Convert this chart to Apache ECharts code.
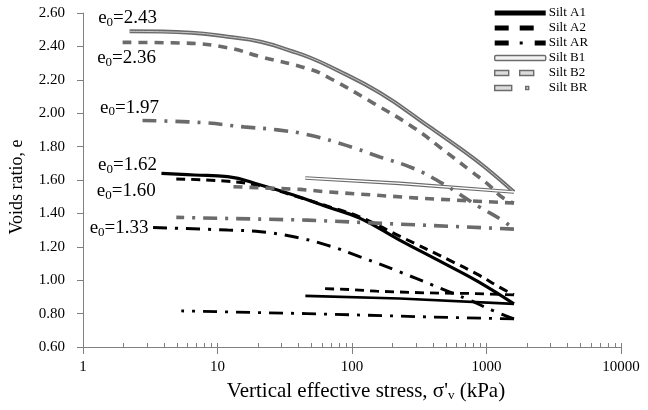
<!DOCTYPE html>
<html>
<head>
<meta charset="utf-8">
<script src="https://cdn.jsdelivr.net/npm/echarts@6/dist/echarts.min.js"></script>
<style>
  html, body { margin: 0; padding: 0; background: #fff; }
  #chart { width: 648px; height: 410px; }
</style>
</head>
<body>
<div id="chart"></div>
<script>
// [vertical effective stress (kPa), voids ratio e]
const a1Load = [[3.83, 1.640], [6.7, 1.630], [11.9, 1.620], [20.9, 1.570], [36.7, 1.510], [65.1, 1.440], [115, 1.370], [226, 1.240], [529, 1.084], [880, 0.988], [1600, 0.858]];
const a1Unload = [[1600, 0.858], [226, 0.890], [45, 0.906]];
const a2Load = [[4.94, 1.606], [11.9, 1.592], [20.9, 1.564], [36.7, 1.507], [65.1, 1.444], [115, 1.378], [226, 1.264], [529, 1.120], [880, 1.030], [1237, 0.960], [1600, 0.912]];
const a2Unload = [[1600, 0.912], [832, 0.920], [356, 0.924], [152, 0.934], [96.7, 0.944], [58, 0.950]];
const arLoad = [[3.32, 1.316], [11.9, 1.300], [20.9, 1.290], [36.9, 1.260], [65.1, 1.210], [115, 1.140], [226, 1.050], [398, 0.970], [702, 0.890], [1104, 0.820], [1600, 0.768]];
const arUnload = [[1600, 0.768], [377, 0.780], [46.3, 0.800], [5.38, 0.816]];
const b1Load = [[2.22, 2.490], [6.37, 2.482], [11.9, 2.458], [20.9, 2.428], [36.7, 2.368], [49, 2.332], [68.9, 2.278], [161, 2.122], [377, 1.918], [659, 1.780], [991, 1.672], [1600, 1.528]];
const b1Unload = [[1600, 1.528], [226, 1.580], [45, 1.612]];
const b2Load = [[1.97, 2.424], [5.66, 2.420], [11.9, 2.392], [20.9, 2.338], [49, 2.262], [68.9, 2.208], [143, 2.062], [282, 1.918], [511, 1.762], [782, 1.648], [1043, 1.570], [1300, 1.498], [1600, 1.462]];
const b2Unload = [[1600, 1.462], [327, 1.490], [63.2, 1.530], [41.3, 1.544], [13, 1.560]];
const brLoad = [[2.77, 1.956], [7.55, 1.944], [15.7, 1.918], [27.9, 1.900], [49, 1.868], [91.8, 1.806], [161, 1.738], [282, 1.672], [469, 1.580], [880, 1.440], [1300, 1.360], [1600, 1.306]];
const brUnload = [[1600, 1.306], [46.3, 1.360], [4.94, 1.376]];

const names = ["Silt A1", "Silt A2", "Silt AR", "Silt B1", "Silt B2", "Silt BR"];
const e0Text = ["1.62", "1.60", "1.33", "2.43", "2.36", "1.97"];

const FONT = "Liberation Serif";
const BLACK = "#000";
const GREY = "#6b6b6b";
const AXIS = "#808080";

const chart = echarts.init(document.getElementById("chart"));

// e0 label next to the first point of a loading curve
function e0Mark(data, text, offset) {
  return {
    symbol: "circle",
    symbolSize: 0,
    silent: true,
    itemStyle: { color: "transparent" },
    label: {
      show: true,
      position: "inside",
      offset: offset,
      formatter: "{e|e}{s|0}{e|=" + text + "}",
      rich: {
        e: { fontFamily: FONT, fontSize: 19, lineHeight: 22, color: BLACK },
        s: { fontFamily: FONT, fontSize: 13, lineHeight: 11, verticalAlign: "bottom", color: BLACK },
      },
    },
    data: [{ coord: data[0] }],
  };
}

function line(name, data, color, width, dash, smooth, mark) {
  return {
    type: "line",
    name: name,
    data: data,
    symbol: "none",
    smooth: smooth ? 0.45 : false,
    color: color,
    lineStyle: { color: color, width: width, type: dash, cap: "butt" },
    markPoint: mark,
    silent: true,
  };
}

const dashA2 = [9, 6];
const dashAR = [14, 8, 3, 8];
const dashB2 = [9, 7];
const dashBR = [14, 8, 3, 8];

const series = [
  line(names[0], a1Load, BLACK, 3.2, "solid", true, e0Mark(a1Load, e0Text[0], [-34, -8])),
  line(names[0], a1Unload, BLACK, 2.6, "solid", false),
  line(names[1], a2Load, BLACK, 3, dashA2, true, e0Mark(a2Load, e0Text[1], [-50, 12])),
  line(names[1], a2Unload, BLACK, 2.8, dashA2, false),
  line(names[2], arLoad, BLACK, 3, dashAR, true, e0Mark(arLoad, e0Text[2], [-34, 1])),
  line(names[2], arUnload, BLACK, 2.8, dashAR, false),
  line(names[3], b1Load, GREY, 4, "solid", true, e0Mark(b1Load, e0Text[3], [-2, -13])),
  line(names[3], b1Unload, GREY, 3.6, "solid", false),
  line(names[3], b1Load, "#c9c9c9", 1, "solid", true),
  line(names[3], b1Unload, "#ffffff", 1.4, "solid", false),
  line(names[4], b2Load, GREY, 3.6, dashB2, true, e0Mark(b2Load, e0Text[4], [4, 16])),
  line(names[4], b2Unload, GREY, 3.6, dashB2, false),
  line(names[5], brLoad, GREY, 3.6, dashBR, true, e0Mark(brLoad, e0Text[5], [-13, -13])),
  line(names[5], brUnload, GREY, 3.6, dashBR, false),
];

// legend keys: dashes drawn as paths, a zero-length end segment keeps the full key width
const END = " M50.99,2.5L51,2.5";
const legendData = [
  { name: names[0], icon: "rect", itemStyle: { color: BLACK, borderWidth: 0 } },
  { name: names[1], icon: "path://M0,0H14V5H0Z M25,0H39V5H25Z" + END, itemStyle: { color: BLACK, borderWidth: 0 } },
  { name: names[2], icon: "path://M0,0H14V5H0Z M25,1H28V4H25Z M40,0H51V5H40Z", itemStyle: { color: BLACK, borderWidth: 0 } },
  { name: names[3], icon: "roundRect", itemStyle: { color: "#f2f2f2", borderColor: GREY, borderWidth: 1.4 } },
  { name: names[4], icon: "path://M0,0H14V5H0Z M25,0H39V5H25Z" + END, itemStyle: { color: "#dcdcdc", borderColor: GREY, borderWidth: 1.4 } },
  { name: names[5], icon: "path://M0,0H17V5H0Z M31,1H34V4H31Z" + END, itemStyle: { color: "#dcdcdc", borderColor: GREY, borderWidth: 1.4 } },
];

chart.setOption({
  animation: false,
  backgroundColor: "#fff",
  grid: { left: 81, right: 27, top: 13, bottom: 63, containLabel: false },
  legend: {
    orient: "vertical",
    left: 489,
    top: 1,
    itemWidth: 51,
    itemHeight: 5,
    itemGap: 1,
    symbolKeepAspect: false,
    selectedMode: false,
    textStyle: { fontFamily: FONT, fontSize: 13, lineHeight: 14, color: BLACK, padding: [0, 0, 0, -2] },
    data: legendData,
  },
  xAxis: [
    {
      type: "log",
      logBase: 10,
      min: 1,
      max: 10000,
      name: "{a|Vertical effective stress, σ'}{s|v}{a| (kPa)}",
      nameLocation: "middle",
      nameGap: 33,
      nameTextStyle: {
        padding: [0, 0, 0, 28],
        rich: {
          a: { fontFamily: FONT, fontSize: 21, lineHeight: 22, color: BLACK },
          s: { fontFamily: FONT, fontSize: 13, lineHeight: 11, verticalAlign: "bottom", color: BLACK },
        },
      },
      axisLine: { show: true, onZero: false, lineStyle: { color: AXIS, width: 1 } },
      axisTick: { show: true, length: 7, lineStyle: { color: AXIS } },
      axisLabel: { margin: 13, fontFamily: FONT, fontSize: 15, color: BLACK, formatter: (v) => String(v) },
      splitLine: { show: false },
    },
    {
      // short inward ticks, major and minor (2..9 of each decade)
      type: "log",
      logBase: 10,
      min: 1,
      max: 10000,
      position: "bottom",
      axisLine: { show: false },
      axisTick: { show: true, inside: true, length: 4, lineStyle: { color: AXIS } },
      minorTick: { show: true, splitNumber: 9, length: 4, lineStyle: { color: AXIS } },
      axisLabel: { show: false },
      splitLine: { show: false },
    },
  ],
  yAxis: {
    type: "value",
    min: 0.6,
    max: 2.6,
    interval: 0.2,
    name: "Voids ratio, e",
    nameLocation: "middle",
    nameGap: 57,
    nameTextStyle: { fontFamily: FONT, fontSize: 18, color: BLACK, padding: [0, 14, 0, 0] },
    axisLine: { show: true, lineStyle: { color: AXIS, width: 1 } },
    axisTick: { show: true, length: 6, lineStyle: { color: AXIS } },
    axisLabel: {
      margin: 18,
      fontFamily: FONT,
      fontSize: 15,
      color: BLACK,
      formatter: (v) => v.toFixed(2),
    },
    splitLine: { show: false },
  },
  series: series,
});
</script>
</body>
</html>
